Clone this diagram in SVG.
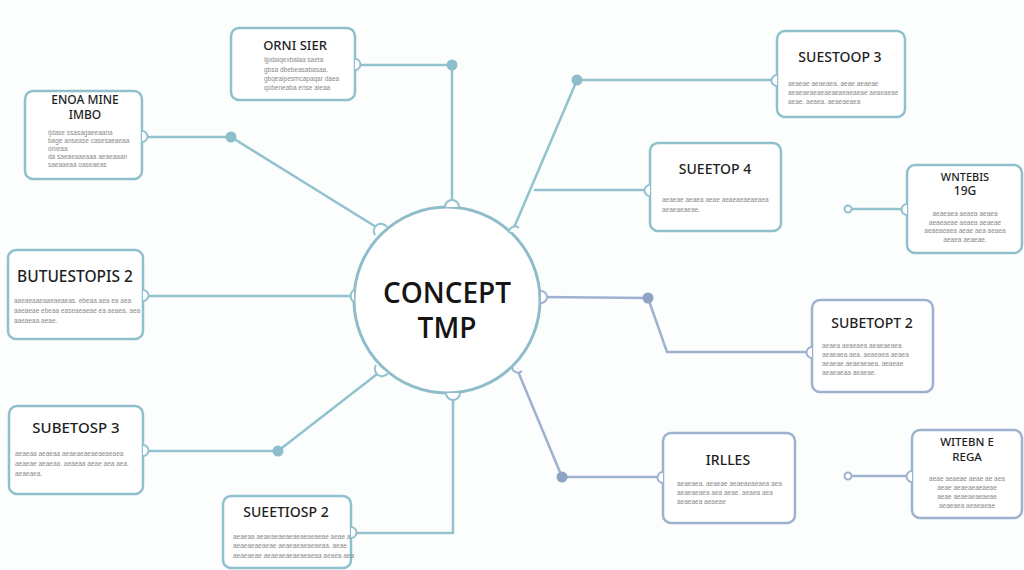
<svg xmlns="http://www.w3.org/2000/svg" width="1024" height="570" viewBox="0 0 1024 570">
<style>
.bg{fill:#fcfdfd}
.box{fill:#ffffff;stroke:#8ec0cd;stroke-width:2.5}
.boxb{fill:#ffffff;stroke:#9db2cf;stroke-width:2.5}
.ln{fill:none;stroke:#93c2cf;stroke-width:2.5}
.lnb{fill:none;stroke:#9eb2cf;stroke-width:2.5}
.dot{fill:#8cbecc}
.dotb{fill:#8fa3c2}
.bump{fill:#ffffff;stroke:#93c2cf;stroke-width:2}
.bumpb{fill:#ffffff;stroke:#9eb2cf;stroke-width:2}
.t{font-family:"Noto Sans","DejaVu Sans",sans-serif;font-weight:500;fill:#1e1e1e;text-anchor:middle}
.b{font-family:"Liberation Sans",sans-serif;font-size:6.5px;fill:#8a8a8a}
.bc{font-family:"Liberation Sans",sans-serif;font-size:6.5px;fill:#8a8a8a;text-anchor:middle}
.c{font-family:"Open Sans","Noto Sans",sans-serif;font-weight:600;font-size:28px;fill:#151515;text-anchor:middle}
</style>
<rect class="bg" x="0" y="0" width="1024" height="570"/>
<g id="connectors">
<polyline class="ln" points="360,65 452,65 452,205"/>
<polyline class="ln" points="147,137 231,137 381,230"/>
<line class="ln" x1="148" y1="296" x2="352" y2="296"/>
<polyline class="ln" points="148,451 278,451 381,371"/>
<polyline class="ln" points="356,533 453,533 453,396"/>
<polyline class="ln" points="772,80 577,80 513,230"/>
<line class="ln" x1="646" y1="190" x2="534" y2="190"/>
<line class="ln" x1="903" y1="209" x2="848" y2="209"/>
<polyline class="lnb" points="808,352 667,352 648,298 541,297"/>
<polyline class="lnb" points="659,477 562,477 517,369"/>
<line class="lnb" x1="908" y1="476" x2="848" y2="476"/>
<circle class="dot" cx="452" cy="65" r="5.5"/>
<circle class="dot" cx="231" cy="137" r="5.5"/>
<circle class="dot" cx="278" cy="451" r="5.5"/>
<circle class="dot" cx="577" cy="80" r="5.5"/>
<circle class="dotb" cx="648" cy="298" r="5.5"/>
<circle class="dotb" cx="562" cy="477" r="5.5"/>
<circle class="bump" cx="848" cy="209" r="3.5"/>
<circle class="bumpb" cx="848" cy="476" r="3.5"/>
</g>
<g id="center">
<circle cx="447" cy="300" r="93" fill="#ffffff" stroke="#8fbccb" stroke-width="3"/>
<path class="bump" d="M445,207 a7,7 0 0 1 14,0"/>
<path class="bump" d="M375,235 a7,7 0 0 1 12,-8"/>
<path class="bump" d="M354,290 a7,7 0 0 0 0,12"/>
<path class="bump" d="M376,365 a7,7 0 0 0 12,8"/>
<path class="bump" d="M446,393 a7,7 0 0 0 14,0"/>
<path class="bump" d="M509,233 a6,6 0 0 1 10,-5"/>
<path class="bumpb" d="M541,291 a6,6 0 0 1 0,12"/>
<path class="bumpb" d="M512,367 a6,6 0 0 0 10,4"/>
<text class="c" x="447" y="303">CONCEPT</text>
<text class="c" x="447" y="338">TMP</text>
</g>
<g id="n1">
<rect class="box" x="231" y="28" width="124" height="72" rx="8"/>
<path class="bump" d="M355,59 a5.5,5.5 0 0 1 0,11"/>
<text class="t" x="295" y="50" font-size="13">ORNI SIER</text>
<text class="b" x="264" y="62">ijpdaiqexbalaa saeta</text>
<text class="b" x="264" y="72">gbsa dbebeasabasaa.</text>
<text class="b" x="264" y="81">gbqeaipesmcapaqar daea</text>
<text class="b" x="264" y="90">qobeneaba ense aieaa</text>
</g>
<g id="n2">
<rect class="box" x="25" y="91" width="117" height="88" rx="8"/>
<path class="bump" d="M142,131 a5.5,5.5 0 0 1 0,11"/>
<text class="t" x="85" y="104" font-size="12">ENOA MINE</text>
<text class="t" x="85" y="119" font-size="12">IMBO</text>
<text class="b" x="48" y="135">ijdase ssasagaeeaana</text>
<text class="b" x="48" y="143">bage ansease casesaeaeaa</text>
<text class="b" x="48" y="151">onieaa</text>
<text class="b" x="48" y="159">da saeaeaaeaaa aeaeaaan</text>
<text class="b" x="48" y="167">saeaaeaa oaseaeas</text>
</g>
<g id="n3">
<rect class="box" x="8" y="250" width="135" height="89" rx="8"/>
<path class="bump" d="M143,290 a5.5,5.5 0 0 1 0,11"/>
<text class="t" x="75" y="282" font-size="15.5">BUTUESTOPIS 2</text>
<text class="b" x="14" y="303">aaeaeaaeaaeaeaeas. ebeaa aea ea aea</text>
<text class="b" x="14" y="313">aaeaeae ebeaa easeaeaeae ea aeaea. aea</text>
<text class="b" x="14" y="323">aaeaeaa aeae.</text>
</g>
<g id="n4">
<rect class="box" x="9" y="406" width="134" height="88" rx="8"/>
<path class="bump" d="M143,445 a5.5,5.5 0 0 1 0,11"/>
<text class="t" x="76" y="433" font-size="15">SUBETOSP 3</text>
<text class="b" x="15" y="456">aeaeaa aeaeaa aeaeaeaeaeaeaeaea</text>
<text class="b" x="15" y="466">aeaeae aeaeaa. aeaeaa aeae aea aea.</text>
<text class="b" x="15" y="476">aeaeaea.</text>
</g>
<g id="n5">
<rect class="box" x="223" y="496" width="128" height="72" rx="8"/>
<path class="bump" d="M351,527 a5.5,5.5 0 0 1 0,11"/>
<text class="t" x="286" y="517" font-size="14">SUEETIOSP 2</text>
<text class="b" x="233" y="539">aeaeaa aeaeaeaeaeaeaeaeaeae aeae a</text>
<text class="b" x="233" y="548">aeaeaeaeaeae aeaeaeaeaeaeaa. aeae</text>
<text class="b" x="233" y="558">aeaeaeae aeaeaeaeaeaeaeaa aeaea aea</text>
</g>
<g id="n6">
<rect class="box" x="777" y="31" width="128" height="86" rx="8"/>
<path class="bump" d="M777,75 a5.5,5.5 0 0 0 0,11"/>
<text class="t" x="840" y="62" font-size="14">SUESTOOP 3</text>
<text class="b" x="788" y="86">aeaeae aeaeaea. aeae aeaeae</text>
<text class="b" x="788" y="95">aeaeaeaeaeaeaeaeaeaeae aeaeaeae</text>
<text class="b" x="788" y="104">aeae. aeaea. aeaeaeaea</text>
</g>
<g id="n7">
<rect class="box" x="650" y="143" width="131" height="88" rx="8"/>
<path class="bump" d="M650,185 a5.5,5.5 0 0 0 0,11"/>
<text class="t" x="715" y="174" font-size="14">SUEETOP 4</text>
<text class="b" x="662" y="202">aeaeae aeaea  aeae aeaeaeaeaeaea</text>
<text class="b" x="662" y="212">aeaeaeaeae.</text>
</g>
<g id="n8">
<rect class="box" x="907" y="165" width="115" height="88" rx="8"/>
<path class="bump" d="M907,204 a5.5,5.5 0 0 0 0,11"/>
<text class="t" x="965" y="181" font-size="11">WNTEBIS</text>
<text class="t" x="965" y="195" font-size="12">19G</text>
<text class="bc" x="965" y="216">aeaeaea aeaea aeaea</text>
<text class="bc" x="965" y="225">aeaeaeae aeaea aeaeae</text>
<text class="bc" x="965" y="233">aeaeaeaea aeae aea aeaea</text>
<text class="bc" x="965" y="242">aeaea aeaeae.</text>
</g>
<g id="n9">
<rect class="boxb" x="812" y="300" width="121" height="92" rx="8"/>
<path class="bumpb" d="M812,347 a5.5,5.5 0 0 0 0,11"/>
<text class="t" x="872" y="328" font-size="14">SUBETOPT 2</text>
<text class="b" x="822" y="348">aeaea aeaeaea aeaeaeaea</text>
<text class="b" x="822" y="357">aeaeaea aea. aeaeaea aeaea</text>
<text class="b" x="822" y="366">aeaeae aeaeaeaea. aeaeae</text>
<text class="b" x="822" y="375">aeaeaeaa aeaeae.</text>
</g>
<g id="n10">
<rect class="boxb" x="663" y="433" width="132" height="90" rx="8"/>
<path class="bumpb" d="M663,472 a5.5,5.5 0 0 0 0,11"/>
<text class="t" x="728" y="465" font-size="14">IRLLES</text>
<text class="b" x="677" y="486">aeaeaea. aeaeae aeaeaeaeaea aea</text>
<text class="b" x="677" y="495">aeaeaeaea aea aeae. aeaea aea</text>
<text class="b" x="677" y="504">aeaeaea aeaeae</text>
</g>
<g id="n11">
<rect class="boxb" x="912" y="430" width="110" height="88" rx="8"/>
<path class="bumpb" d="M912,471 a5.5,5.5 0 0 0 0,11"/>
<text class="t" x="967" y="446" font-size="11.5">WITEBN E</text>
<text class="t" x="967" y="461" font-size="11.5">REGA</text>
<text class="bc" x="967" y="481">aeae aeaeae aeae ae aea</text>
<text class="bc" x="967" y="490">aeae aeaeaeaeaeae</text>
<text class="bc" x="967" y="499">aeae aeaeaeaeaeae</text>
<text class="bc" x="967" y="508">aeaeaea aeaeaeae</text>
</g>
</svg>
